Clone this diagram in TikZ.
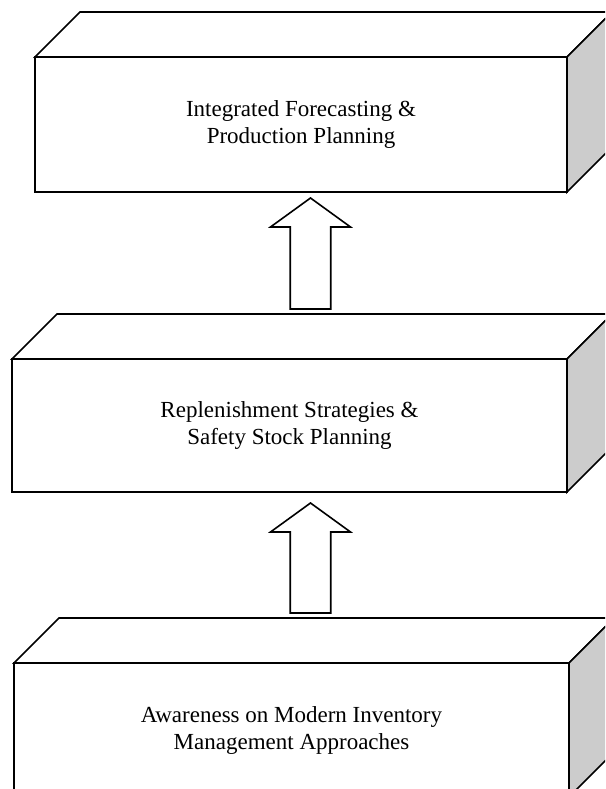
\documentclass[tikz,border=0pt]{standalone}
\usepackage{fontspec}
\setmainfont{Liberation Serif}
\usetikzlibrary{calc}

\tikzset{
  front/.style={draw, fill=white, line width=1.6pt, inner sep=0pt, outer sep=0pt,
    align=center, font=\fontsize{23}{27}\selectfont},
  topface/.style={draw, fill=white, line width=1.6pt, line join=miter},
  sideface/.style={draw, fill=sidegray, line width=1.6pt, line join=miter},
  arrowshape/.style={draw, fill=white, line width=1.6pt, line join=miter},
}
\definecolor{sidegray}{RGB}{204,204,204}

% a 3-D slab: front node #1, depth offset (45,45) up and to the right
\newcommand\slab[1]{%
  \path[topface] (#1.north west) -- ++(45,-45) -- ($(#1.north east)+(45,-45)$)
        -- (#1.north east) -- cycle;
  \path[sideface] (#1.north east) -- ++(45,-45) -- ($(#1.south east)+(45,-45)$)
        -- (#1.south east) -- cycle;
}

% hollow upward block arrow from tail coordinate #1 to tip coordinate #2
\newcommand\blockarrow[2]{%
  \path[arrowshape] let \p1=(#1), \p2=(#2) in
    (\x1-20.25pt,\y1) -- (\x1+20.25pt,\y1) -- (\x1+20.25pt,\y2-29pt)
    -- (\x1+40pt,\y2-29pt) -- (\x2,\y2) -- (\x1-40pt,\y2-29pt)
    -- (\x1-20.25pt,\y2-29pt) -- cycle;
}

\begin{document}
\begin{tikzpicture}[x=1pt, y=-1pt]
  \useasboundingbox (0,0) rectangle (605,789);
  \clip (0,0) rectangle (605,789);

  % levels, top to bottom
  \node[front, minimum width=532pt, minimum height=135pt] (f1) at (301,124.5)
    {Integrated Forecasting \&\\Production Planning};
  \slab{f1}

  \node[front, minimum width=555pt, minimum height=133pt] (f2) at (289.5,425.5)
    {Replenishment Strategies \&\\Safety Stock Planning};
  \slab{f2}

  \node[front, minimum width=555pt, minimum height=134pt] (f3) at (291.5,730)
    {Awareness on Modern Inventory\\Management Approaches};
  \slab{f3}

  % arrow end points
  \coordinate (a1tip)  at (310.5,198);
  \coordinate (a1tail) at (310.5,309);
  \coordinate (a2tip)  at (310.5,503);
  \coordinate (a2tail) at (310.5,613);

  \blockarrow{a1tail}{a1tip}
  \blockarrow{a2tail}{a2tip}
\end{tikzpicture}
\end{document}
